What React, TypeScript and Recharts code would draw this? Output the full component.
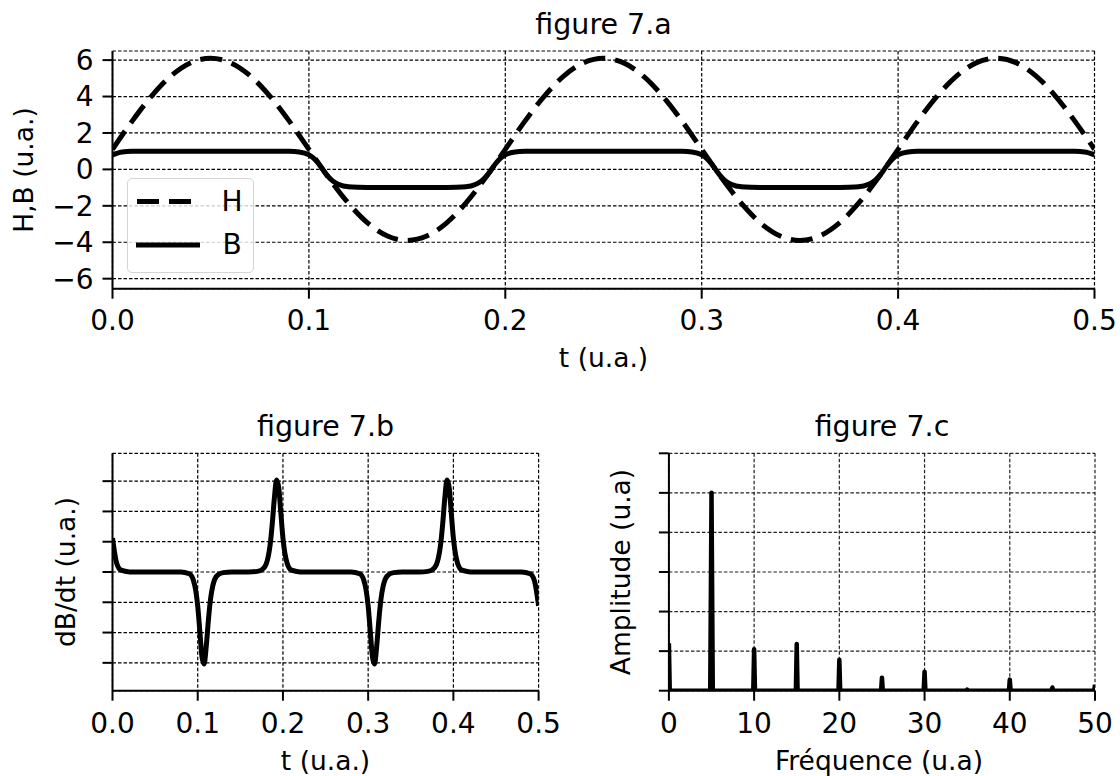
import React from 'react';
import { LineChart, Line, XAxis, YAxis, CartesianGrid } from 'recharts';

// figure 7.a : excitation H (tirets) et induction B (trait plein)
const tCoarse = [
  0, 0.01, 0.02, 0.03, 0.04, 0.05, 0.06, 0.07, 0.08, 0.09,
  0.1, 0.11, 0.12, 0.13, 0.14, 0.15, 0.16, 0.17, 0.18, 0.19,
  0.2, 0.21, 0.22, 0.23, 0.24, 0.25, 0.26, 0.27, 0.28, 0.29,
  0.3, 0.31, 0.32, 0.33, 0.34, 0.35, 0.36, 0.37, 0.38, 0.39,
  0.4, 0.41, 0.42, 0.43, 0.44, 0.45, 0.46, 0.47, 0.48, 0.49, 0.5,
];
const hValues = [
  1.1, 2.65, 4.04, 5.15, 5.86, 6.1, 5.86, 5.15, 4.04, 2.65,
  1.1, -0.45, -1.84, -2.95, -3.66, -3.9, -3.66, -2.95, -1.84, -0.45,
  1.1, 2.65, 4.04, 5.15, 5.86, 6.1, 5.86, 5.15, 4.04, 2.65,
  1.1, -0.45, -1.84, -2.95, -3.66, -3.9, -3.66, -2.95, -1.84, -0.45,
  1.1, 2.65, 4.04, 5.15, 5.86, 6.1, 5.86, 5.15, 4.04, 2.65, 1.1,
];

// pas plus fin autour des basculements de B (figures 7.a et 7.b)
const tFine = [
  0, 0.005, 0.01, 0.02, 0.04, 0.06, 0.08, 0.09, 0.095, 0.1,
  0.1025, 0.105, 0.1075, 0.11, 0.1125, 0.115, 0.1175, 0.12, 0.125, 0.13,
  0.14, 0.16, 0.17, 0.175, 0.18, 0.1825, 0.185, 0.1875, 0.19, 0.1925,
  0.195, 0.1975,
  0.2, 0.205, 0.21, 0.22, 0.24, 0.26, 0.28, 0.29, 0.295, 0.3,
  0.3025, 0.305, 0.3075, 0.31, 0.3125, 0.315, 0.3175, 0.32, 0.325, 0.33,
  0.34, 0.36, 0.37, 0.375, 0.38, 0.3825, 0.385, 0.3875, 0.39, 0.3925,
  0.395, 0.3975,
  0.4, 0.405, 0.41, 0.42, 0.44, 0.46, 0.48, 0.49, 0.495, 0.5,
];
const bValues = [
  0.8, 0.955, 0.99, 1.0, 1.0, 1.0, 1.0, 0.99, 0.955, 0.8,
  0.61, 0.31, -0.07, -0.42, -0.67, -0.82, -0.91, -0.95, -0.985, -0.995,
  -1.0, -1.0, -0.995, -0.985, -0.95, -0.91, -0.82, -0.67, -0.42, -0.07,
  0.31, 0.61,
  0.8, 0.955, 0.99, 1.0, 1.0, 1.0, 1.0, 0.99, 0.955, 0.8,
  0.61, 0.31, -0.07, -0.42, -0.67, -0.82, -0.91, -0.95, -0.985, -0.995,
  -1.0, -1.0, -0.995, -0.985, -0.95, -0.91, -0.82, -0.67, -0.42, -0.07,
  0.31, 0.61,
  0.8, 0.955, 0.99, 1.0, 1.0, 1.0, 1.0, 0.99, 0.955, 0.8,
];
const dbdtValues = [
  56, 14, 3, 0.2, 0, 0, 0, -3, -14, -56,
  -98, -140, -152, -123, -80, -45, -24, -12, -3.3, -1,
  -0.1, 0, 1, 3.3, 12, 24, 45, 80, 123, 152,
  140, 98,
  56, 14, 3, 0.2, 0, 0, 0, -3, -14, -56,
  -98, -140, -152, -123, -80, -45, -24, -12, -3.3, -1,
  -0.1, 0, 1, 3.3, 12, 24, 45, 80, 123, 152,
  140, 98,
  56, 14, 3, 0.2, 0, 0, 0, -3, -14, -56,
];

// figure 7.c : spectre
const freqs = [
  0, 0.1, 4.85, 5, 5.15, 9.9, 10, 10.1, 14.9, 15, 15.1,
  19.9, 20, 20.1, 24.9, 25, 25.1, 29.9, 30, 30.1, 34.9, 35, 35.1,
  39.9, 40, 40.1, 44.9, 45, 45.1, 49.9, 50,
];
const amplitudes = [
  1.2, 0, 0, 5.0, 0, 0, 1.05, 0, 0, 1.18, 0,
  0, 0.78, 0, 0, 0.33, 0, 0, 0.48, 0, 0, 0.03, 0,
  0, 0.28, 0, 0, 0.08, 0, 0, 0.15,
];

const tTicks = [0, 0.1, 0.2, 0.3, 0.4, 0.5];
const hbTicks = [-6, -4, -2, 0, 2, 4, 6];
const dbdtTicks = [-150, -100, -50, 0, 50, 100, 150];
const freqTicks = [0, 10, 20, 30, 40, 50];
const ampTicks = [0, 1, 2, 3, 4, 5, 6];

const hData = tCoarse.map((t, i) => ({ t, h: hValues[i] }));
const fineData = tFine.map((t, i) => ({ t, b: bValues[i], dbdt: dbdtValues[i] }));
const specData = freqs.map((f, i) => ({ f, a: amplitudes[i] }));

const FONT = 'DejaVu Sans';
const tickStyle = { fill: '#000', fontSize: 28, fontFamily: FONT };
const axisLine = { stroke: '#000', strokeWidth: 2 };
const tickLine = { stroke: '#000', strokeWidth: 2 };
const gridDash = '3.5 2';

const minus = (v: number) => (v < 0 ? `\u2212${-v}` : `${v}`);
const blank = () => '';

const Caption = ({ x, y, text, rotate = false, size = 26.5 }: { x: number; y: number; text: string; rotate?: boolean; size?: number }) => (
  <div
    style={{
      position: 'absolute',
      left: x,
      top: y,
      transform: `translate(-50%, -50%)${rotate ? ' rotate(-90deg)' : ''}`,
      whiteSpace: 'nowrap',
      fontSize: size,
      lineHeight: 1,
      fontFamily: FONT,
      color: '#000',
    }}
  >
    {text}
  </div>
);

const App = () => {
  return (
    <div style={{ position: 'absolute', left: 0, top: 0, width: 1120, height: 776, background: '#fff', fontFamily: FONT }}>
      {/* figure 7.a */}
      <div style={{ position: 'absolute', left: 0, top: 0 }}>
        <LineChart width={1120} height={390} margin={{ top: 51, right: 25.5, bottom: 41.3, left: 0 }}>
          <CartesianGrid stroke="#000" strokeWidth={1.2} strokeDasharray={gridDash} />
          <XAxis
            type="number"
            dataKey="t"
            domain={[0, 0.5]}
            ticks={tTicks}
            interval={0}
            tickFormatter={(v: number) => v.toFixed(1)}
            height={60}
            tickSize={10}
            tickMargin={11}
            tick={tickStyle}
            axisLine={axisLine}
            tickLine={tickLine}
            allowDataOverflow
          />
          <YAxis
            type="number"
            domain={[-6.55, 6.5]}
            ticks={hbTicks}
            interval={0}
            tickFormatter={minus}
            width={112.5}
            tickSize={10}
            tickMargin={9}
            tick={tickStyle}
            axisLine={axisLine}
            tickLine={tickLine}
            allowDataOverflow
          />
          <Line data={hData} dataKey="h" type="monotone" stroke="#000" strokeWidth={5} strokeDasharray="22 10" dot={false} activeDot={false} isAnimationActive={false} />
          <Line data={fineData} dataKey="b" type="monotone" stroke="#000" strokeWidth={5} dot={false} activeDot={false} isAnimationActive={false} />
        </LineChart>
      </div>

      {/* légende */}
      <div
        style={{
          position: 'absolute',
          left: 127,
          top: 178,
          width: 127,
          height: 95,
          boxSizing: 'border-box',
          border: '1.5px solid #d4d4d4',
          borderRadius: 5,
          background: 'rgba(255,255,255,0.8)',
        }}
      >
        <svg width={124} height={92} style={{ position: 'absolute', left: 0, top: 0 }}>
          <line x1={9} x2={65} y1={22.5} y2={22.5} stroke="#000" strokeWidth={5} strokeDasharray="22 10" />
          <line x1={8} x2={72} y1={66} y2={66} stroke="#000" strokeWidth={5} />
        </svg>
        <Caption x={104} y={23} text="H" size={28} />
        <Caption x={104} y={66} text="B" size={28} />
      </div>

      {/* figure 7.b */}
      <div style={{ position: 'absolute', left: 0, top: 390 }}>
        <LineChart width={560} height={386} margin={{ top: 63.3, right: 21.4, bottom: 25.3, left: 0 }}>
          <CartesianGrid stroke="#000" strokeWidth={1.2} strokeDasharray={gridDash} />
          <XAxis
            type="number"
            dataKey="t"
            domain={[0, 0.5]}
            ticks={tTicks}
            interval={0}
            tickFormatter={(v: number) => v.toFixed(1)}
            height={60}
            tickSize={10}
            tickMargin={12}
            tick={tickStyle}
            axisLine={axisLine}
            tickLine={tickLine}
            allowDataOverflow
          />
          <YAxis
            type="number"
            domain={[-196, 196]}
            ticks={dbdtTicks}
            interval={0}
            tickFormatter={blank}
            width={112.5}
            tickSize={10}
            tick={tickStyle}
            axisLine={axisLine}
            tickLine={tickLine}
            allowDataOverflow
          />
          <Line data={fineData} dataKey="dbdt" type="monotone" stroke="#000" strokeWidth={5} dot={false} activeDot={false} isAnimationActive={false} />
        </LineChart>
      </div>

      {/* figure 7.c */}
      <div style={{ position: 'absolute', left: 560, top: 390 }}>
        <LineChart width={560} height={386} margin={{ top: 63.3, right: 25, bottom: 25.3, left: 0 }}>
          <CartesianGrid stroke="#222" strokeWidth={1.2} strokeDasharray={gridDash} />
          <XAxis
            type="number"
            dataKey="f"
            domain={[0, 50]}
            ticks={freqTicks}
            interval={0}
            height={60}
            tickSize={10}
            tickMargin={12}
            tick={tickStyle}
            axisLine={axisLine}
            tickLine={tickLine}
            allowDataOverflow
          />
          <YAxis
            type="number"
            domain={[0, 6]}
            ticks={ampTicks}
            interval={0}
            tickFormatter={blank}
            width={108.9}
            tickSize={10}
            tick={tickStyle}
            axisLine={axisLine}
            tickLine={tickLine}
            allowDataOverflow
          />
          <Line data={specData} dataKey="a" type="linear" stroke="#000" strokeWidth={4.5} strokeLinejoin="round" dot={false} activeDot={false} isAnimationActive={false} />
        </LineChart>
      </div>

      <Caption x={603.5} y={25} text="figure 7.a" size={28.5} />
      <Caption x={603.5} y={358} text="t (u.a.)" />
      <Caption x={24} y={170} text="H,B (u.a.)" rotate />

      <Caption x={325.5} y={426.5} text="figure 7.b" size={28.5} />
      <Caption x={325.5} y={761} text="t (u.a.)" />
      <Caption x={66} y={572} text="dB/dt (u.a.)" rotate />

      <Caption x={882} y={426.5} text="figure 7.c" size={28.5} />
      <Caption x={879} y={761} text="Fréquence (u.a)" />
      <Caption x={621} y={572} text="Amplitude (u.a)" rotate />
    </div>
  );
};

export default App;
